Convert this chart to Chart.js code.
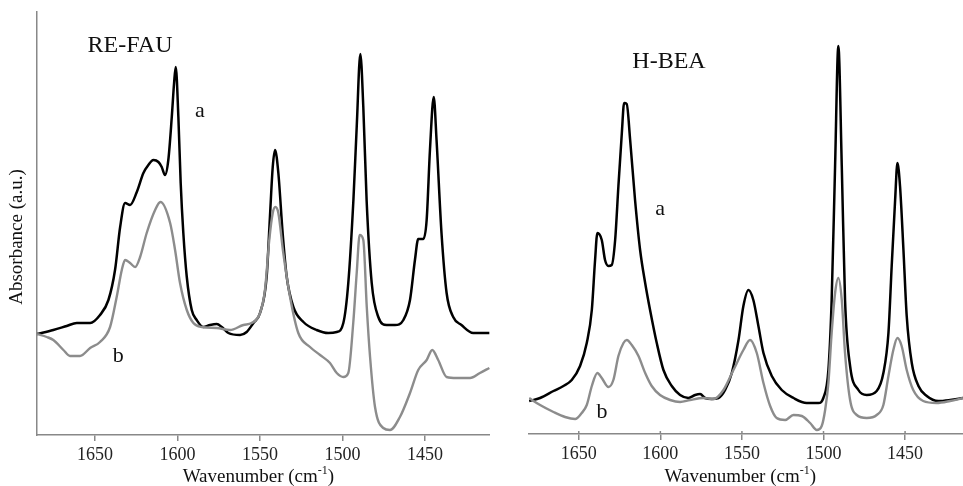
<!DOCTYPE html>
<html>
<head>
<meta charset="utf-8">
<script src="https://cdn.jsdelivr.net/npm/chart.js@4.4.1/dist/chart.umd.min.js"></script>
<style>
  html, body { margin: 0; padding: 0; background: #fff; }
  canvas { position: absolute; top: 0; }
  #fau { left: 0; }
  #bea { left: 490px; }
</style>
</head>
<body>
<canvas id="fau" width="490" height="486"></canvas>
<canvas id="bea" width="473" height="486"></canvas>
<script>
// tick labels (wavenumber, cm-1)
const xTicks = [1650, 1600, 1550, 1500, 1450];

// RE-FAU, spectrum a (black)
const fauWnA = [1685.2, 1675.3, 1667.2, 1661.1, 1653.0, 1647.0, 1641.9, 1637.9, 1634.8, 1631.8,
  1628.8, 1624.7, 1620.7, 1617.7, 1614.6, 1611.6, 1609.6, 1607.6, 1605.6, 1603.5,
  1602.1, 1601.1, 1599.5, 1598.1, 1596.5, 1594.4, 1591.4, 1588.4, 1584.4, 1580.3,
  1576.2, 1573.2, 1569.2, 1562.1, 1558.1, 1554.0, 1550.0, 1546.0, 1544.0, 1542.3,
  1540.9, 1538.9, 1536.3, 1533.8, 1529.8, 1523.7, 1515.7, 1508.6, 1503.5, 1499.5,
  1496.5, 1493.4, 1491.4, 1489.2, 1487.4, 1485.4, 1482.3, 1478.3, 1473.2, 1468.2,
  1463.1, 1459.1, 1456.1, 1454.1, 1451.0, 1449.0, 1447.0, 1444.7, 1443.0, 1440.0,
  1436.9, 1432.9, 1427.9, 1420.8, 1411.0];
const fauA = [101, 105, 109, 112, 112, 120, 135, 165, 208, 232,
  230, 243, 262, 270, 275, 273, 268, 260, 275, 318,
  352, 368, 318, 252, 202, 158, 125, 115, 108, 110,
  111, 108, 102, 100, 103, 112, 122, 158, 218, 268,
  285, 262, 202, 158, 128, 113, 105, 102, 103, 112,
  152, 235, 308, 381, 328, 235, 152, 118, 110, 110,
  115, 135, 175, 196, 196, 215, 285, 338, 295, 202,
  142, 118, 110, 102, 102];

// RE-FAU, spectrum b (grey)
const fauWnB = [1685.2, 1679.3, 1675.3, 1669.2, 1665.2, 1659.1, 1653.0, 1647.0, 1640.9, 1636.9,
  1633.8, 1631.8, 1628.8, 1625.7, 1622.7, 1618.7, 1613.6, 1610.4, 1604.5, 1601.5,
  1598.5, 1594.4, 1590.4, 1585.3, 1576.2, 1568.2, 1560.1, 1555.1, 1550.0, 1547.0,
  1544.4, 1542.3, 1540.7, 1538.9, 1535.9, 1531.8, 1526.8, 1519.7, 1513.6, 1507.6,
  1503.5, 1499.5, 1496.5, 1493.5, 1491.4, 1489.6, 1487.4, 1485.3, 1483.3, 1480.3,
  1475.3, 1471.2, 1465.2, 1459.1, 1454.1, 1449.0, 1445.6, 1442.0, 1436.9, 1430.8,
  1422.7, 1416.7, 1411.0];
const fauB = [101, 98, 95, 85, 79, 79, 87, 93, 108, 138,
  165, 175, 172, 168, 178, 202, 225, 233, 212, 185,
  152, 125, 112, 108, 107, 105, 110, 112, 122, 145,
  195, 222, 228, 222, 182, 138, 102, 88, 80, 72,
  62, 58, 62, 112, 162, 200, 195, 128, 78, 28,
  7, 5, 18, 42, 65, 75, 85, 75, 58, 57,
  57, 62, 67];

// H-BEA, spectrum a (black)
const beaWnA = [1680.4, 1673.7, 1665.5, 1659.4, 1654.3, 1649.2, 1645.1, 1642.0, 1640.0, 1638.6,
  1635.9, 1633.9, 1631.8, 1629.8, 1627.7, 1625.7, 1623.6, 1622.2, 1620.6, 1618.5,
  1615.5, 1612.4, 1609.3, 1606.3, 1602.2, 1598.1, 1593.0, 1587.9, 1582.8, 1578.7,
  1575.6, 1572.6, 1568.5, 1564.4, 1560.3, 1556.2, 1552.1, 1549.1, 1546.0, 1543.0,
  1539.9, 1536.8, 1531.7, 1525.6, 1518.4, 1510.3, 1503.1, 1500.1, 1497.0, 1495.0,
  1492.9, 1490.9, 1488.8, 1486.8, 1483.7, 1478.6, 1473.5, 1467.4, 1463.3, 1460.2,
  1458.2, 1456.1, 1454.7, 1453.1, 1451.0, 1449.0, 1445.9, 1441.8, 1436.7, 1429.6,
  1422.4, 1414.5];
const beaA = [33, 36, 43, 48, 54, 68, 91, 124, 174, 201,
  194, 174, 168, 169, 194, 248, 301, 331, 330, 294,
  234, 184, 151, 124, 91, 64, 48, 39, 36, 39,
  40, 36, 35, 36, 44, 61, 94, 128, 144, 134,
  108, 81, 58, 44, 36, 31, 31, 36, 64, 134,
  268, 388, 268, 134, 68, 44, 39, 43, 61, 101,
  168, 234, 271, 248, 184, 118, 71, 48, 38, 33,
  34, 36];

// H-BEA, spectrum b (grey)
const beaWnB = [1680.4, 1673.7, 1665.5, 1658.4, 1652.2, 1648.2, 1645.1, 1642.0, 1638.6, 1635.9,
  1631.8, 1628.8, 1625.7, 1622.6, 1620.6, 1617.5, 1613.4, 1609.3, 1605.3, 1600.2,
  1594.0, 1587.9, 1581.8, 1573.6, 1567.5, 1561.3, 1555.2, 1549.1, 1545.0, 1540.9,
  1536.8, 1532.7, 1528.7, 1523.5, 1518.4, 1513.3, 1508.2, 1504.1, 1501.1, 1499.0,
  1497.0, 1495.0, 1492.9, 1490.9, 1488.8, 1486.8, 1483.7, 1479.6, 1473.5, 1467.4,
  1463.3, 1460.2, 1457.2, 1454.7, 1452.1, 1449.0, 1445.0, 1438.9, 1430.7, 1422.4,
  1414.5];
const beaB = [36, 29, 22, 17, 15, 21, 29, 48, 61, 56,
  47, 54, 78, 91, 94, 89, 78, 61, 48, 39,
  34, 32, 34, 36, 35, 44, 64, 84, 94, 81,
  51, 28, 16, 14, 19, 18, 11, 4, 8, 24,
  51, 101, 141, 156, 134, 81, 34, 19, 16, 19,
  29, 58, 84, 96, 88, 64, 44, 33, 31, 33,
  36];

const serif = '"Liberation Serif", "Times New Roman", serif';

// text on the panels: sample name, curve letters, axis titles
const panelText = {
  id: 'panelText',
  afterDraw(chart, args, opts) {
    const ctx = chart.ctx;
    const xs = chart.scales.x, ys = chart.scales.y;
    ctx.save();
    ctx.fillStyle = '#111';
    ctx.textAlign = 'center';
    ctx.textBaseline = 'middle';
    opts.labels.forEach(l => {
      ctx.font = l.size + 'px ' + serif;
      ctx.fillText(l.text, xs.getPixelForValue(l.x), ys.getPixelForValue(l.y));
    });

    // x title with superscript -1
    const cx = xs.getPixelForValue(1551), ty = 477;
    ctx.font = '19px ' + serif;
    const w1 = ctx.measureText('Wavenumber (cm').width;
    const w3 = ctx.measureText(')').width;
    ctx.font = '12px ' + serif;
    const w2 = ctx.measureText('-1').width;
    let x0 = cx - (w1 + w2 + w3) / 2;
    ctx.textAlign = 'left';
    ctx.font = '19px ' + serif;
    ctx.fillText('Wavenumber (cm', x0, ty);
    ctx.font = '12px ' + serif;
    ctx.fillText('-1', x0 + w1, ty - 6);
    ctx.font = '19px ' + serif;
    ctx.fillText(')', x0 + w1 + w2, ty);

    if (opts.yTitle) {
      ctx.translate(17, ys.getPixelForValue(198));
      ctx.rotate(-Math.PI / 2);
      ctx.textAlign = 'center';
      ctx.font = '19px ' + serif;
      ctx.fillText(opts.yTitle, 0, 0);
    }
    ctx.restore();

    // small tick stubs above the axis (right panel)
    if (opts.crossTicks) {
      ctx.save();
      ctx.strokeStyle = '#888';
      ctx.lineWidth = 1.5;
      xTicks.forEach(v => {
        const px = xs.getPixelForValue(v);
        ctx.beginPath();
        ctx.moveTo(px, chart.chartArea.bottom - 3);
        ctx.lineTo(px, chart.chartArea.bottom);
        ctx.stroke();
      });
      ctx.restore();
    }
  }
};

function pts(wn, vals) {
  return wn.map((w, i) => ({ x: w, y: vals[i] }));
}

function makeChart(id, cfg) {
  return new Chart(document.getElementById(id), {
    type: 'line',
    data: {
      datasets: [
        { data: pts(cfg.wnB, cfg.b), borderColor: '#8c8c8c', borderWidth: 2.4 },
        { data: pts(cfg.wnA, cfg.a), borderColor: '#000000', borderWidth: 2.5 }
      ]
    },
    options: {
      responsive: false,
      animation: false,
      layout: { padding: { top: 12, left: 0, right: 0, bottom: 0 } },
      elements: { point: { radius: 0 }, line: { cubicInterpolationMode: 'monotone' } },
      plugins: {
        legend: { display: false },
        tooltip: { enabled: false },
        panelText: { labels: cfg.labels, yTitle: cfg.yTitle, crossTicks: cfg.crossTicks }
      },
      scales: {
        x: {
          type: 'linear',
          reverse: true,
          min: cfg.xMin,
          max: cfg.xMax,
          afterBuildTicks: s => { s.ticks = xTicks.map(v => ({ value: v })); },
          afterFit: s => { s.height = cfg.xHeight; },
          ticks: {
            color: '#222', font: { family: serif, size: 18 }, padding: 3, maxRotation: 0,
            callback: v => String(v)
          },
          grid: { display: true, drawOnChartArea: false, tickLength: 6, color: '#888', lineWidth: 1.5 },
          border: { display: true, color: '#888', width: 1.5 }
        },
        y: {
          min: 0,
          max: cfg.yMax,
          display: true,
          afterFit: s => { s.width = cfg.yWidth; },
          ticks: { display: false },
          grid: { display: false },
          border: { display: cfg.showY, color: '#888', width: 1.5 }
        }
      }
    },
    plugins: [panelText]
  });
}

makeChart('fau', {
  wnA: fauWnA, a: fauA, wnB: fauWnB, b: fauB,
  xMin: 1410.6, xMax: 1685.2, yMax: 423, xHeight: 51, yWidth: 37, showY: true,
  yTitle: 'Absorbance (a.u.)', crossTicks: false,
  labels: [
    { text: 'RE-FAU', x: 1628.8, y: 389, size: 24 },
    { text: 'a', x: 1586.4, y: 324, size: 22 },
    { text: 'b', x: 1636, y: 79, size: 22 }
  ]
});

makeChart('bea', {
  wnA: beaWnA, a: beaA, wnB: beaWnB, b: beaB,
  xMin: 1414.5, xMax: 1680.5, yMax: 422, xHeight: 52, yWidth: 39, showY: false,
  yTitle: null, crossTicks: true,
  labels: [
    { text: 'H-BEA', x: 1594.7, y: 372, size: 24 },
    { text: 'a', x: 1600.2, y: 225, size: 22 },
    { text: 'b', x: 1635.7, y: 22, size: 22 }
  ]
});
</script>
</body>
</html>
